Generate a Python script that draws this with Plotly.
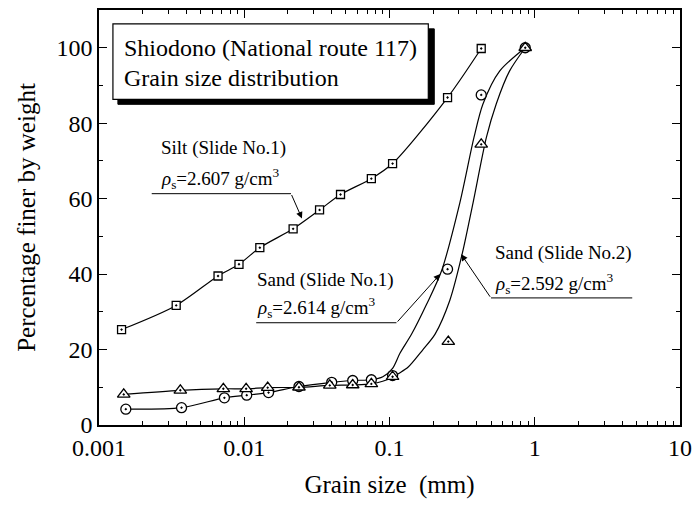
import plotly.graph_objects as go

# ---- data ----
silt_size = [0.00143, 0.0034, 0.0066, 0.0092, 0.0128, 0.0217, 0.033, 0.046, 0.075, 0.105, 0.251, 0.428]
silt_pct = [25.3, 31.7, 39.5, 42.6, 47.0, 52.0, 57.0, 61.1, 65.3, 69.3, 86.8, 99.8]

sand1_size = [0.00153, 0.0037, 0.0073, 0.0104, 0.0147, 0.0238, 0.040, 0.0558, 0.075, 0.105, 0.251, 0.428, 0.86]
sand1_pct = [4.2, 4.6, 7.2, 7.9, 8.6, 10.2, 11.3, 11.8, 12.0, 13.1, 41.3, 87.5, 100.0]

sand2_size = [0.00148, 0.00363, 0.00718, 0.0103, 0.0145, 0.0238, 0.0388, 0.0558, 0.075, 0.105, 0.254, 0.428, 0.86]
sand2_pct = [8.1, 9.2, 9.6, 9.6, 9.9, 10.0, 10.5, 10.6, 10.9, 12.8, 22.1, 74.4, 100.0]

# fitted curves as traced on the picture
sand1_curve_size = [0.00153, 0.0037, 0.0073, 0.0104, 0.0147, 0.0238, 0.040, 0.0558, 0.075, 0.09,
                    0.105, 0.118, 0.142, 0.18, 0.228, 0.305, 0.382, 0.44, 0.573, 0.86]
sand1_curve_pct = [4.2, 4.6, 7.2, 7.9, 8.6, 10.2, 11.3, 11.8, 12.0, 12.8,
                   15.0, 19.0, 24.1, 32.0, 40.8, 58.9, 76.3, 85.1, 93.8, 100.0]
sand2_curve_size = [0.00148, 0.00363, 0.00718, 0.0103, 0.0145, 0.0238, 0.0388, 0.0558, 0.075, 0.105,
                    0.115, 0.134, 0.17, 0.206, 0.26, 0.315, 0.376, 0.465, 0.543, 0.67, 0.86]
sand2_curve_pct = [8.1, 9.2, 9.6, 9.6, 9.9, 10.0, 10.5, 10.6, 10.9, 12.6,
                   13.6, 15.3, 20.0, 24.1, 33.0, 45.0, 58.9, 76.3, 85.1, 93.8, 100.0]

x_tickvals = [0.001, 0.01, 0.1, 1, 10]
x_ticktext = ["0.001", "0.01", "0.1", "1", "10"]
x_minor = [m * d for d in [0.001, 0.01, 0.1, 1] for m in range(2, 10)]

FONT = "Liberation Serif"

fig = go.Figure()

line_style = dict(color="black", width=1.2, shape="spline", smoothing=0.8)

fig.add_trace(go.Scatter(x=sand1_curve_size, y=sand1_curve_pct, mode="lines", line=line_style,
                         showlegend=False, hoverinfo="skip"))
fig.add_trace(go.Scatter(x=sand2_curve_size, y=sand2_curve_pct, mode="lines", line=line_style,
                         showlegend=False, hoverinfo="skip"))
fig.add_trace(go.Scatter(x=silt_size, y=silt_pct, mode="lines", line=line_style,
                         showlegend=False, hoverinfo="skip"))

fig.add_trace(go.Scatter(x=silt_size, y=silt_pct, mode="markers", showlegend=False,
                         marker=dict(symbol="square-dot", size=8, color="white",
                                     line=dict(color="black", width=1.3))))
fig.add_trace(go.Scatter(x=sand1_size, y=sand1_pct, mode="markers", showlegend=False,
                         marker=dict(symbol="circle-dot", size=10, color="white",
                                     line=dict(color="black", width=1.3))))
fig.add_trace(go.Scatter(x=sand2_size, y=sand2_pct, mode="markers", showlegend=False,
                         marker=dict(symbol="triangle-up-dot", size=11, color="white",
                                     line=dict(color="black", width=1.3))))

# page offset of the figure (browser body margin)
OFF = 8
W, H = 700 - 2 * OFF, 507 - 2 * OFF
L, R, T, B = 99, 683, 7, 425  # plot area in page pixels


def px(x):
    return (x - L) / (R - L)


def py(y):
    return (B - y) / (B - T)


shapes = [
    # title box shadow and box
    dict(type="rect", xref="paper", yref="paper", x0=px(118), x1=px(436), y0=py(102), y1=py(26),
         fillcolor="black", line=dict(color="black", width=1)),
    dict(type="rect", xref="paper", yref="paper", x0=px(113), x1=px(430), y0=py(97), y1=py(21),
         fillcolor="white", line=dict(color="black", width=1.2)),
    # underlines
    dict(type="line", xref="paper", yref="paper", x0=px(152), x1=px(292), y0=py(192), y1=py(192),
         line=dict(color="black", width=1)),
    dict(type="line", xref="paper", yref="paper", x0=px(257), x1=px(398), y0=py(322), y1=py(322),
         line=dict(color="black", width=1)),
    dict(type="line", xref="paper", yref="paper", x0=px(493), x1=px(635), y0=py(297), y1=py(297),
         line=dict(color="black", width=1)),
]

ann = []


def text(xp, yp, s, size=19):
    ann.append(dict(xref="paper", yref="paper", x=px(xp), y=py(yp), text=s, showarrow=False,
                    xanchor="left", yanchor="middle", font=dict(family=FONT, size=size, color="black")))


def arrow(hx, hy, tx, ty):
    ann.append(dict(xref="paper", yref="paper", x=px(hx), y=py(hy), ax=tx - hx, ay=ty - hy,
                    axref="pixel", ayref="pixel", text="", showarrow=True, arrowhead=2,
                    arrowsize=1.3, arrowwidth=1, arrowcolor="black"))


text(122, 45, "Shiodono (National route 117)", 24)
text(122, 75, "Grain size distribution", 24)
text(159, 146, "Silt (Slide No.1)")
text(159, 177, "<i>ρ</i><sub>s</sub>=2.607 g/cm<sup>3</sup>")
text(256, 279, "Sand (Slide No.1)")
text(256, 307, "<i>ρ</i><sub>s</sub>=2.614 g/cm<sup>3</sup>")
text(495, 252, "Sand (Slide No.2)")
text(495, 282, "<i>ρ</i><sub>s</sub>=2.592 g/cm<sup>3</sup>")
arrow(303, 217, 292, 192)
arrow(442, 273, 398, 322)
arrow(463, 253, 493, 297)

fig.update_layout(
    width=W, height=H,
    margin=dict(l=L - OFF, r=W - (R - OFF), t=max(T - OFF, 0), b=H - (B - OFF), pad=0),
    plot_bgcolor="white", paper_bgcolor="white",
    font=dict(family=FONT, size=24, color="black"),
    shapes=shapes, annotations=ann,
    xaxis=dict(type="log", range=[-3, 1], tickvals=x_tickvals, ticktext=x_ticktext,
               ticks="inside", ticklen=8, tickwidth=1, tickcolor="black", ticklabeloverflow="allow",
               minor=dict(ticks="inside", ticklen=4, tickvals=x_minor, tickcolor="black", showgrid=False),
               showline=True, linecolor="black", linewidth=1.5, mirror="ticks",
               showgrid=False, zeroline=False,
               tickfont=dict(family=FONT, size=24),
               title=dict(text="Grain size  (mm)", font=dict(family=FONT, size=25), standoff=19)),
    yaxis=dict(range=[0, 110], tickvals=[0, 20, 40, 60, 80, 100],
               ticks="inside", ticklen=8, tickwidth=1, tickcolor="black", ticklabeloverflow="allow",
               minor=dict(ticks="inside", ticklen=4, tickvals=[10, 30, 50, 70, 90], tickcolor="black",
                          showgrid=False),
               showline=True, linecolor="black", linewidth=1.5, mirror="ticks",
               showgrid=False, zeroline=False,
               tickfont=dict(family=FONT, size=24),
               title=dict(text="Percentage finer by weight", font=dict(family=FONT, size=25), standoff=14)),
)

fig.write_html("out.html")
